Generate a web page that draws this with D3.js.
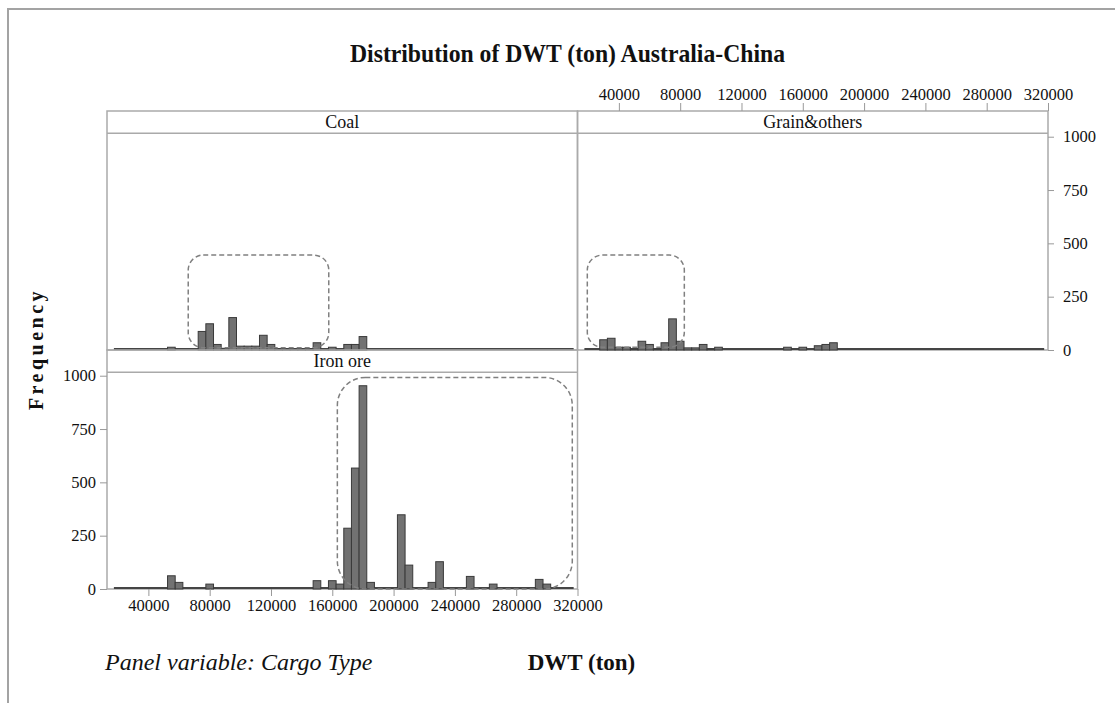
<!DOCTYPE html>
<html>
<head>
<meta charset="utf-8">
<script src="https://cdn.jsdelivr.net/npm/d3@7"></script>
<style>
  body { margin: 0; background: #fff; }
  text { font-family: "Liberation Serif", "Times New Roman", serif; fill: #111; }
</style>
</head>
<body>
<svg id="chart"></svg>
<script>
// histogram bins are 5000 t wide, counts read off the picture (only non-empty bins listed)
const binWidth = 5000;
const binRange = [17500, 317500];

const coalDWT  = [55000, 75000, 80000, 85000, 90000, 95000, 100000, 105000, 110000, 115000, 120000,
                  125000, 130000, 135000, 140000, 145000, 150000, 155000, 160000, 165000, 170000, 175000, 180000];
const coalFreq = [13, 87, 123, 26, 8, 152, 18, 18, 18, 69, 26,
                  4, 4, 4, 4, 4, 34, 3, 13, 3, 26, 26, 63];

const grainDWT  = [30000, 35000, 40000, 45000, 50000, 55000, 60000, 65000, 70000, 75000, 80000,
                   85000, 90000, 95000, 100000, 105000, 150000, 160000, 170000, 175000, 180000];
const grainFreq = [48, 55, 13, 13, 5, 41, 26, 5, 34, 146, 41,
                   10, 10, 26, 5, 13, 13, 13, 20, 26, 34];

const ironDWT  = [55000, 60000, 80000, 150000, 160000, 165000, 170000, 175000, 180000, 185000,
                  205000, 210000, 225000, 230000, 250000, 265000, 295000, 300000];
const ironFreq = [62, 31, 23, 39, 39, 23, 285, 567, 953, 31,
                  348, 112, 31, 128, 59, 23, 45, 23];

const xTicks = [40000, 80000, 120000, 160000, 200000, 240000, 280000, 320000];
const yTicks = [0, 250, 500, 750, 1000];

// dashed call-out boxes, in data units: [dwtFrom, dwtTo, freqFrom, freqTo]
const coalBox  = [66000, 157700, 11, 445];
const grainBox = [19400, 82700, 13, 445];
const ironBox  = [163300, 316600, 0, 992];

const W = 1115, H = 703;
const svg = d3.select('#chart').attr('width', W).attr('height', H);

const panelW = 470.5, stripH = 22.3, plotH = 216.7;
const col0 = 107, col1 = col0 + panelW;
const row0 = 111, row1 = row0 + stripH + plotH;

const panels = [
  {name: 'Coal',         x0: col0, top: row0, dwt: coalDWT,  freq: coalFreq,  box: coalBox,  r: 15},
  {name: 'Grain&others', x0: col1, top: row0, dwt: grainDWT, freq: grainFreq, box: grainBox, r: 15},
  {name: 'Iron ore',     x0: col0, top: row1, dwt: ironDWT,  freq: ironFreq,  box: ironBox,  r: 28}
];

// outer frame
svg.append('path')
  .attr('d', `M8,${H} L8,9 L${W},9`)
  .attr('fill', 'none')
  .attr('stroke', '#a3a3a3')
  .attr('stroke-width', 2);

svg.append('text')
  .attr('x', 567.5).attr('y', 62)
  .attr('text-anchor', 'middle')
  .attr('font-size', '25px')
  .attr('font-weight', 'bold')
  .attr('textLength', 435)
  .attr('lengthAdjust', 'spacingAndGlyphs')
  .text('Distribution of DWT (ton) Australia-China');

panels.forEach(p => {
  const plotTop = p.top + stripH,
        plotBot = plotTop + plotH;
  p.x = d3.scaleLinear().domain([13000, 320000]).range([p.x0, p.x0 + panelW]);
  p.y = d3.scaleLinear().domain([0, 1016]).range([plotBot, plotTop]);
  p.plotTop = plotTop;
  p.plotBot = plotBot;

  const g = svg.append('g').classed('panel', true);

  // strip + border
  g.append('rect')
    .attr('x', p.x0).attr('y', p.top)
    .attr('width', panelW).attr('height', stripH + plotH)
    .attr('fill', 'none').attr('stroke', '#aaaaaa').attr('stroke-width', 1.5);
  g.append('line')
    .attr('x1', p.x0).attr('x2', p.x0 + panelW)
    .attr('y1', plotTop).attr('y2', plotTop)
    .attr('stroke', '#aaaaaa').attr('stroke-width', 1.5);
  g.append('text')
    .attr('x', p.x0 + panelW / 2).attr('y', p.top + stripH / 2 + 6)
    .attr('text-anchor', 'middle')
    .attr('font-size', '18px')
    .text(p.name);

  // empty bins show as a flat dark baseline
  g.append('line')
    .attr('x1', p.x(binRange[0])).attr('x2', p.x(binRange[1]))
    .attr('y1', p.y(0) - 1).attr('y2', p.y(0) - 1)
    .attr('stroke', '#454545').attr('stroke-width', 2);

  g.selectAll('.bar')
    .data(p.dwt.map((d, i) => ({dwt: d, freq: p.freq[i]})))
    .enter()
    .append('rect')
    .classed('bar', true)
    .attr('x', d => p.x(d.dwt - binWidth / 2))
    .attr('width', d => p.x(d.dwt + binWidth / 2) - p.x(d.dwt - binWidth / 2))
    .attr('y', d => p.y(d.freq))
    .attr('height', d => p.y(0) - p.y(d.freq))
    .attr('fill', '#727272')
    .attr('stroke', '#3a3a3a')
    .attr('stroke-width', 1);

  g.append('rect')
    .attr('x', p.x(p.box[0])).attr('y', p.y(p.box[3]))
    .attr('width', p.x(p.box[1]) - p.x(p.box[0]))
    .attr('height', p.y(p.box[2]) - p.y(p.box[3]))
    .attr('rx', p.r).attr('ry', p.r)
    .attr('fill', 'none')
    .attr('stroke', '#808080')
    .attr('stroke-width', 1.5)
    .attr('stroke-dasharray', '5,3');
});

function styleAxis(sel) {
  sel.select('.domain').remove();
  sel.selectAll('.tick line').attr('stroke', '#999');
  sel.selectAll('.tick text')
    .attr('fill', '#111')
    .style('font-family', '"Liberation Serif", "Times New Roman", serif')
    .style('font-size', '16.5px');
}

const coal = panels[0], grain = panels[1], iron = panels[2];
const intFmt = d3.format('d');

// top axis above Grain&others
svg.append('g')
  .attr('transform', `translate(0, ${grain.top})`)
  .call(d3.axisTop(grain.x).tickValues(xTicks).tickFormat(intFmt).tickSize(8).tickPadding(3))
  .call(styleAxis);

// right axis for Grain&others
svg.append('g')
  .attr('transform', `translate(${grain.x0 + panelW}, 0)`)
  .call(d3.axisRight(grain.y).tickValues(yTicks).tickFormat(intFmt).tickSize(6).tickPadding(9))
  .call(styleAxis);

// left and bottom axes for Iron ore
svg.append('g')
  .attr('transform', `translate(${iron.x0}, 0)`)
  .call(d3.axisLeft(iron.y).tickValues(yTicks).tickFormat(intFmt).tickSize(7).tickPadding(4))
  .call(styleAxis);

svg.append('g')
  .attr('transform', `translate(0, ${iron.plotBot})`)
  .call(d3.axisBottom(iron.x).tickValues(xTicks).tickFormat(intFmt).tickSize(7).tickPadding(3))
  .call(styleAxis);

svg.append('text')
  .attr('transform', 'translate(43, 349) rotate(-90)')
  .attr('text-anchor', 'middle')
  .attr('font-size', '20px')
  .attr('font-weight', 'bold')
  .attr('letter-spacing', '3.5px')
  .text('Frequency');

svg.append('text')
  .attr('x', 105).attr('y', 670)
  .attr('font-size', '24px')
  .attr('font-style', 'italic')
  .text('Panel variable: Cargo Type');

svg.append('text')
  .attr('x', 581.5).attr('y', 670)
  .attr('text-anchor', 'middle')
  .attr('font-size', '23px')
  .attr('font-weight', 'bold')
  .text('DWT (ton)');
</script>
</body>
</html>
